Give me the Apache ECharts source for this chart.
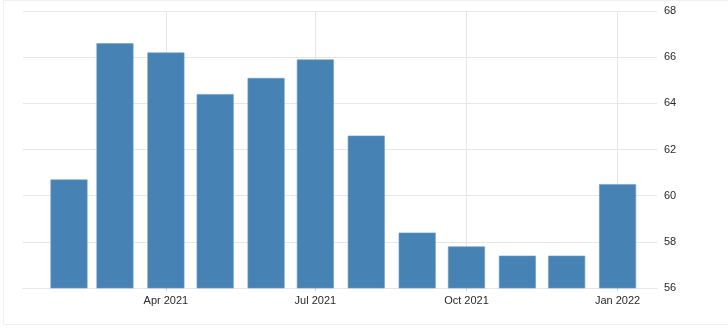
<!DOCTYPE html>
<html>
<head>
<meta charset="utf-8">
<script src="https://cdn.jsdelivr.net/npm/echarts@6/dist/echarts.min.js"></script>
<style>
html,body{margin:0;padding:0;background:#fff;}
#chart{width:728px;height:330px;}
</style>
</head>
<body>
<div id="chart"></div>
<script>
const months = ['2021-02-01','2021-03-01','2021-04-01','2021-05-01','2021-06-01','2021-07-01','2021-08-01','2021-09-01','2021-10-01','2021-11-01','2021-12-01','2022-01-01'];
const values = [60.7, 66.6, 66.2, 64.4, 65.1, 65.9, 62.6, 58.4, 57.8, 57.4, 57.4, 60.5];
const tickDates = ['2021-04-01','2021-07-01','2021-10-01','2022-01-01'];
const tickLabels = ['Apr 2021','Jul 2021','Oct 2021','Jan 2022'];
const yTicks = [56, 58, 60, 62, 64, 66, 68];

const ts = s => Date.UTC(+s.slice(0,4), +s.slice(5,7)-1, +s.slice(8,10));
const tickTs = tickDates.map(ts);
const labelMap = {};
tickTs.forEach((t,i)=>{labelMap[t]=tickLabels[i];});

const chart = echarts.init(document.getElementById('chart'), null, {renderer:'canvas'});
chart.setOption({
  animation:false,
  backgroundColor:'#fff',
  graphic:[{type:'rect',left:1,top:-2,shape:{width:740,height:324},
    style:{fill:'none',stroke:'#f0f0f0',lineWidth:1},silent:true}],
  grid:{left:23,right:71,top:11,bottom:42,containLabel:false},
  xAxis:{
    type:'value',
    min: ts('2021-01-04'),
    max: ts('2022-01-25'),
    axisLine:{show:true,lineStyle:{color:'#e6e6e6'}},
    axisTick:{show:true,customValues:tickTs,length:3,lineStyle:{color:'#cccccc'}},
    axisLabel:{customValues:tickTs,color:'#2a2a2a',fontSize:11,fontFamily:'Liberation Sans, Arial, sans-serif',margin:7,
      formatter:v=>labelMap[v]||''},
    splitLine:{show:true,lineStyle:{color:'#e6e6e6',width:1}}
  },
  yAxis:{
    type:'value',
    position:'right',
    min:yTicks[0],max:yTicks[yTicks.length-1],interval:2,
    axisLine:{show:false},axisTick:{show:false},
    axisLabel:{color:'#2a2a2a',fontSize:11,fontFamily:'Liberation Sans, Arial, sans-serif',margin:7},
    splitLine:{show:true,lineStyle:{color:'#e6e6e6',width:1}}
  },
  series:[{
    type:'bar',
    data: months.map((m,i)=>[ts(m), values[i]]),
    barWidth:37,
    itemStyle:{color:'#4682b4',borderColor:'#6a9cc8',borderWidth:0.6}
  }]
});
</script>
</body>
</html>
